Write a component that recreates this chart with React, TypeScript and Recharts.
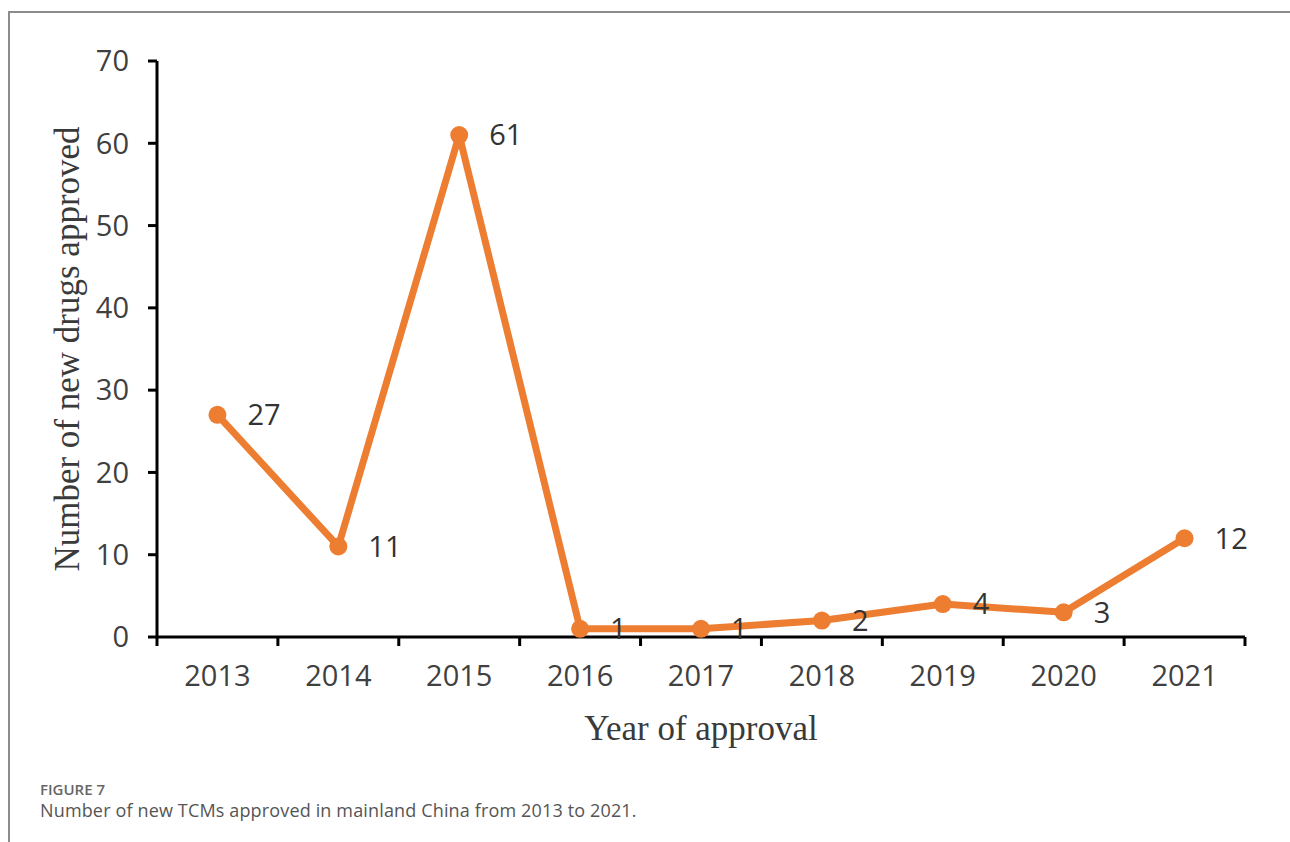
import React from 'react';
import { LineChart, Line, XAxis, YAxis, LabelList, Label } from 'recharts';

const years = [2013, 2014, 2015, 2016, 2017, 2018, 2019, 2020, 2021];
const approvals = [27, 11, 61, 1, 1, 2, 4, 3, 12];
const yTicks = [0, 10, 20, 30, 40, 50, 60, 70];

const data = years.map((year, i) => ({ year, count: approvals[i] }));
// tick marks sit between the years, like the original spreadsheet chart
const boundaries = [...years.map((y) => y - 0.5), years[years.length - 1] + 0.5];
const xDomain = [boundaries[0], boundaries[boundaries.length - 1]];

const ORANGE = '#ED7D31';
const TEXT = '#404040';
const tickFont = { fontFamily: 'Open Sans', fontSize: 29, fill: TEXT };
const pointFont = { fontFamily: 'Open Sans', fontSize: 29, fill: '#333' };
const titleFont = { fontFamily: 'Liberation Serif', fontSize: 35, fill: '#3a3a3a' };

const YTitle = ({ viewBox }: any) => {
  const x = viewBox.x + 47;
  const y = viewBox.y + viewBox.height / 2;
  return (
    <text x={x} y={y} transform={`rotate(-90, ${x}, ${y})`} textAnchor="middle" dominantBaseline="central" style={titleFont}>
      Number of new drugs approved
    </text>
  );
};

const XTitle = ({ viewBox }: any) => {
  const x = viewBox.x + viewBox.width / 2;
  return (
    <text x={x} y={viewBox.y + 102} textAnchor="middle" style={titleFont}>
      Year of approval
    </text>
  );
};

export default function App() {
  return (
    <div style={{ position: 'absolute', left: 0, top: 0, width: 1290, height: 842, background: '#fff', overflow: 'hidden' }}>
      <div
        style={{
          position: 'absolute',
          left: 8,
          top: 11,
          width: 1290,
          height: 842,
          borderTop: '2px solid #8c8c8c',
          borderLeft: '2px solid #8c8c8c',
        }}
      />
      <div style={{ position: 'absolute', left: 0, top: 0 }}>
        <LineChart width={1290} height={770} data={data} margin={{ top: 61, right: 45, bottom: 23, left: 20 }}>
          <XAxis
            xAxisId="marks"
            type="number"
            dataKey="year"
            domain={xDomain}
            ticks={boundaries}
            tickFormatter={() => ''}
            height={1}
            tickSize={9}
            axisLine={{ stroke: '#000', strokeWidth: 3 }}
            tickLine={{ stroke: '#000', strokeWidth: 3 }}
          />
          <XAxis
            xAxisId="years"
            type="number"
            dataKey="year"
            domain={xDomain}
            ticks={years}
            height={109}
            tickSize={0}
            tickMargin={27}
            axisLine={false}
            tickLine={false}
            tick={tickFont}
          >
            <Label content={<XTitle />} />
          </XAxis>
          <YAxis
            type="number"
            domain={[0, 70]}
            ticks={yTicks}
            width={137}
            tickSize={9}
            tickMargin={19}
            axisLine={{ stroke: '#000', strokeWidth: 3 }}
            tickLine={{ stroke: '#000', strokeWidth: 3 }}
            tick={tickFont}
          >
            <Label content={<YTitle />} />
          </YAxis>
          <Line
            xAxisId="years"
            dataKey="count"
            stroke={ORANGE}
            strokeWidth={7}
            strokeLinejoin="round"
            dot={{ r: 9, fill: ORANGE, stroke: 'none' }}
            isAnimationActive={false}
          >
            <LabelList dataKey="count" position="right" offset={30} style={pointFont} />
          </Line>
        </LineChart>
      </div>
      <div style={{ position: 'absolute', left: 40, top: 782, fontFamily: 'Open Sans', fontSize: 15, fontWeight: 600, lineHeight: '15px', color: '#666' }}>
        FIGURE 7
      </div>
      <div
        style={{
          position: 'absolute',
          left: 40,
          top: 801,
          fontFamily: 'Open Sans',
          fontSize: 18,
          letterSpacing: 0.15,
          lineHeight: '18px',
          color: '#555',
          whiteSpace: 'nowrap',
        }}
      >
        Number of new TCMs approved in mainland China from 2013 to 2021.
      </div>
    </div>
  );
}
